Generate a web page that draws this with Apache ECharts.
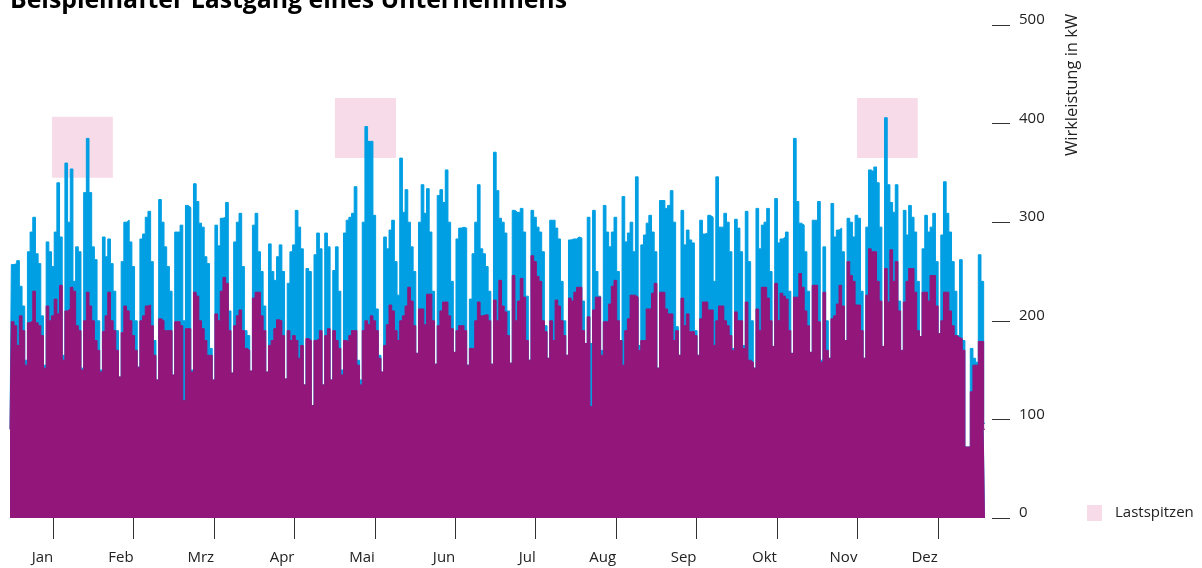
<!DOCTYPE html>
<html>
<head>
<meta charset="utf-8">
<script src="https://cdn.jsdelivr.net/npm/echarts@6/dist/echarts.min.js"></script>
<style>
  html, body { margin: 0; padding: 0; background: #fff; }
  #chart { width: 1202px; height: 568px; }
</style>
</head>
<body>
<div id="chart"></div>
<script>
// Monatsnamen der x-Achse
var monate = ['Jan', 'Feb', 'Mrz', 'Apr', 'Mai', 'Jun', 'Jul', 'Aug', 'Sep', 'Okt', 'Nov', 'Dez'];

// Tageswerte (kW): blaue Kurve = Gesamtlast
var gesamt = [
  90, 257, 258, 261, 235, 215, 160, 270, 290, 305, 268, 258, 205, 155, 280, 270, 255, 290, 340, 285,
  165, 360, 300, 354, 240, 275, 270, 152, 330, 385, 330, 275, 262, 200, 150, 285, 265, 283, 258, 230,
  190, 143, 260, 300, 302, 280, 255, 200, 153, 283, 288, 305, 311, 260, 180, 140, 323, 300, 275, 255,
  230, 145, 290, 290, 297, 200, 317, 315, 150, 339, 321, 299, 295, 265, 258, 172, 140, 297, 276, 304,
  305, 320, 210, 147, 280, 300, 309, 255, 190, 185, 149, 297, 309, 270, 250, 215, 148, 278, 250, 241,
  265, 277, 250, 141, 238, 270, 277, 312, 295, 273, 135, 253, 250, 114, 267, 289, 273, 135, 289, 275,
  140, 251, 275, 230, 150, 289, 302, 305, 309, 336, 160, 140, 300, 397, 382, 382, 307, 212, 165, 148,
  285, 273, 292, 302, 260, 226, 365, 310, 333, 300, 275, 250, 167, 300, 338, 309, 334, 290, 230, 156,
  327, 333, 320, 353, 300, 240, 168, 283, 294, 295, 294, 155, 222, 268, 300, 338, 273, 268, 255, 230,
  156, 371, 332, 304, 300, 289, 210, 157, 312, 310, 310, 314, 290, 225, 160, 312, 305, 295, 290, 270,
  195, 162, 302, 302, 294, 283, 240, 200, 165, 282, 283, 283, 285, 284, 220, 177, 305, 177, 312, 250,
  225, 170, 317, 290, 275, 290, 305, 250, 180, 326, 280, 289, 300, 270, 346, 175, 277, 287, 299, 307,
  290, 270, 152, 322, 322, 314, 317, 332, 300, 194, 165, 312, 277, 292, 282, 279, 190, 165, 302, 288,
  289, 307, 305, 240, 346, 295, 295, 309, 300, 270, 172, 303, 294, 270, 175, 311, 260, 200, 152, 314,
  273, 297, 300, 314, 250, 174, 324, 279, 283, 285, 290, 230, 167, 385, 321, 299, 297, 270, 230, 168,
  302, 302, 321, 160, 275, 200, 162, 319, 285, 292, 294, 270, 180, 304, 300, 285, 307, 304, 230, 162,
  295, 353, 351, 356, 340, 295, 174, 406, 338, 320, 310, 338, 220, 170, 312, 287, 317, 305, 290, 240,
  184, 273, 307, 290, 295, 309, 260, 187, 287, 341, 309, 290, 260, 230, 185, 262, 180, 72, 72, 172,
  162, 158, 267, 240, 96
];

// Tageswerte (kW): violette Flaeche
var grund = [
  90, 199, 195, 175, 205, 190, 155, 198, 200, 230, 198, 195, 185, 152, 215, 200, 205, 222, 207, 236,
  160, 210, 212, 234, 230, 195, 190, 150, 200, 229, 215, 200, 180, 170, 148, 189, 205, 229, 200, 190,
  170, 143, 188, 215, 210, 200, 185, 170, 153, 200, 205, 215, 216, 195, 165, 140, 202, 200, 190, 190,
  190, 145, 199, 199, 195, 119, 192, 192, 148, 229, 225, 200, 192, 180, 165, 165, 140, 207, 200, 230,
  244, 238, 190, 147, 195, 205, 211, 190, 172, 170, 149, 223, 229, 229, 205, 190, 148, 175, 180, 192,
  201, 200, 185, 141, 190, 180, 185, 180, 162, 175, 135, 182, 180, 114, 180, 182, 190, 135, 185, 192,
  140, 190, 180, 172, 145, 180, 179, 185, 190, 190, 155, 135, 190, 200, 196, 205, 200, 190, 162, 148,
  175, 196, 216, 210, 190, 180, 200, 205, 215, 234, 220, 195, 167, 212, 212, 196, 227, 227, 200, 156,
  195, 210, 219, 219, 205, 192, 168, 190, 195, 195, 190, 155, 172, 172, 200, 219, 205, 206, 206, 200,
  156, 221, 200, 241, 215, 209, 185, 157, 246, 200, 220, 243, 224, 180, 160, 266, 260, 245, 240, 200,
  189, 162, 200, 180, 221, 215, 200, 185, 165, 223, 220, 229, 234, 234, 190, 177, 204, 113, 211, 224,
  224, 165, 199, 199, 217, 235, 241, 200, 180, 155, 190, 202, 226, 226, 224, 170, 180, 180, 212, 212,
  228, 238, 152, 229, 229, 212, 207, 207, 180, 190, 165, 223, 195, 207, 189, 189, 185, 165, 202, 219,
  219, 211, 211, 175, 200, 215, 215, 200, 195, 185, 170, 209, 200, 200, 172, 219, 160, 158, 152, 212,
  190, 234, 234, 223, 200, 174, 238, 200, 228, 225, 222, 190, 167, 224, 224, 248, 234, 210, 195, 168,
  236, 236, 199, 158, 229, 170, 162, 202, 205, 217, 236, 215, 180, 260, 246, 240, 216, 216, 190, 162,
  226, 273, 270, 270, 240, 220, 174, 253, 219, 272, 240, 260, 210, 170, 219, 240, 253, 253, 229, 190,
  184, 229, 229, 220, 246, 246, 215, 187, 200, 229, 229, 210, 195, 185, 183, 182, 170, 72, 72, 128,
  155, 155, 179, 179, 90
];

// Lastspitzen: [Tag von, Tag bis, kW unten, kW oben]
var spitzen = [
  [15.7, 38.4, 345, 407],
  [121.3, 144.1, 365, 426],
  [316.2, 338.9, 365, 426]
];

var blau = '#009fe3';
var violett = '#93167b';
var rosa = '#f8dbe9';
var schrift = '"Open Sans", "Noto Sans", sans-serif';

function punkte(arr) {
  return arr.map(function (v, i) { return [i, v]; });
}

var dom = document.getElementById('chart');
var myChart = echarts.init(dom);

var option = {
  animation: false,
  textStyle: { fontFamily: schrift },
  graphic: [
    {
      type: 'text', left: 10, top: -12,
      style: { text: 'Beispielhafter Lastgang eines Unternehmens', fill: '#000',
        font: 'bold 24.8px ' + schrift }
    },
    {
      type: 'text', x: 1064, y: 156, rotation: Math.PI / 2,
      style: { text: 'Wirkleistung in kW', fill: '#222', font: '16.5px ' + schrift,
        align: 'left', verticalAlign: 'top' }
    }
  ],
  legend: {
    data: ['Lastspitzen'],
    left: 1082, top: 500,
    icon: 'rect', itemWidth: 15, itemHeight: 16,
    textStyle: { fontSize: 15, color: '#222', padding: [0, 0, 0, 8] }
  },
  grid: [
    { left: 10, right: 217, top: 25, bottom: 50 },
    { left: 13, right: 224, top: 25, bottom: 50 }
  ],
  xAxis: [
    { type: 'value', gridIndex: 0, min: 0, max: gesamt.length - 1, show: false },
    {
      type: 'category', gridIndex: 1, data: monate, boundaryGap: true, offset: 4,
      axisLine: { show: false },
      axisTick: { show: true, alignWithLabel: true, length: 21, lineStyle: { color: '#333' } },
      axisLabel: { align: 'right', margin: 28, fontSize: 15, color: '#222' },
      splitLine: { show: false }
    }
  ],
  yAxis: [
    {
      type: 'value', gridIndex: 0, position: 'right', min: 0, max: 500, interval: 100, offset: 7,
      axisLine: { show: false, onZero: false },
      axisTick: { show: true, length: 18, lineStyle: { color: '#333' } },
      axisLabel: { margin: 27, fontSize: 15, color: '#222', verticalAlign: 'bottom', lineHeight: 10 },
      splitLine: { show: false }
    },
    { type: 'value', gridIndex: 1, show: false }
  ],
  series: [
    {
      name: 'Lastspitzen', type: 'line', data: [], z: 1,
      itemStyle: { color: rosa },
      markArea: {
        silent: true,
        itemStyle: { color: rosa },
        data: spitzen.map(function (s) {
          return [{ xAxis: s[0], yAxis: s[2] }, { xAxis: s[1], yAxis: s[3] }];
        })
      }
    },
    {
      name: 'Gesamt', type: 'line', data: punkte(gesamt), z: 2,
      showSymbol: false, symbol: 'none', step: 'middle',
      lineStyle: { color: blau, width: 1 },
      areaStyle: { color: blau, opacity: 1 }
    },
    {
      name: 'Grund', type: 'line', data: punkte(grund), z: 3,
      showSymbol: false, symbol: 'none', step: 'middle',
      lineStyle: { color: violett, width: 1 },
      areaStyle: { color: violett, opacity: 1 }
    }
  ]
};

myChart.setOption(option);
</script>
</body>
</html>
